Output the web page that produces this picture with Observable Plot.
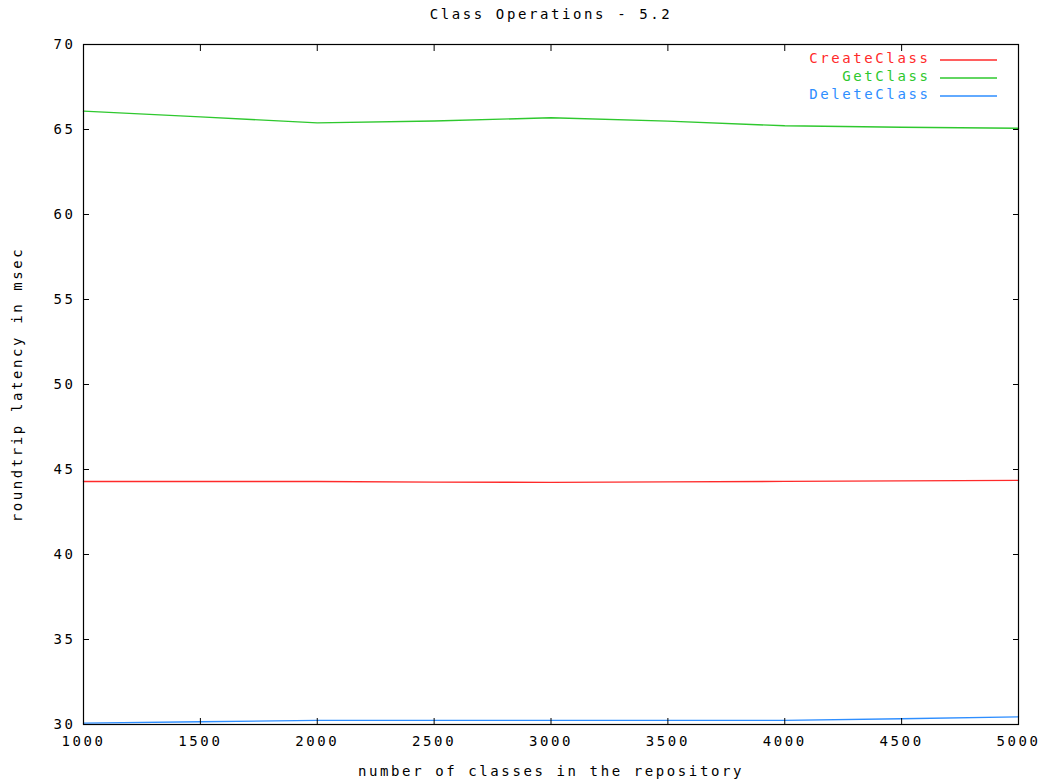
<!DOCTYPE html>
<html>
<head>
<meta charset="utf-8">
<script src="https://cdn.jsdelivr.net/npm/d3@7"></script>
<script src="https://cdn.jsdelivr.net/npm/@observablehq/plot@0.6"></script>
<style>
  html, body { margin: 0; padding: 0; background: #fff; }
  svg text { letter-spacing: 2.6px; }
</style>
</head>
<body>
<div id="chart"></div>
<script>
const title = "Class Operations - 5.2";
const xLabel = "number of classes in the repository";
const yLabel = "roundtrip latency in msec";
const classCounts = [1000, 1500, 2000, 2500, 3000, 3500, 4000, 4500, 5000];
const createClass = [44.29, 44.29, 44.29, 44.26, 44.24, 44.27, 44.30, 44.33, 44.36];
const getClass    = [66.08, 65.74, 65.39, 65.50, 65.69, 65.49, 65.22, 65.13, 65.07];
const deleteClass = [30.08, 30.16, 30.24, 30.24, 30.24, 30.24, 30.24, 30.34, 30.45];
const seriesNames = ["CreateClass", "GetClass", "DeleteClass"];
const seriesColors = ["#ff2a2a", "#2ec82e", "#2e8eff"];
const xTicks = [1000, 1500, 2000, 2500, 3000, 3500, 4000, 4500, 5000];
const yTicks = [30, 35, 40, 45, 50, 55, 60, 65, 70];

const seriesValues = [createClass, getClass, deleteClass];
const data = seriesNames.flatMap((name, s) =>
  classCounts.map((x, i) => ({series: name, x, y: seriesValues[s][i]})));

const font = "DejaVu Sans Mono";
const fs = 14;

const chart = Plot.plot({
  width: 1052,
  height: 783,
  marginLeft: 83,
  marginRight: 34,
  marginTop: 44,
  marginBottom: 59,
  style: {fontFamily: font, fontSize: fs + "px", color: "#000", background: "#fff"},
  x: {domain: [1000, 5000], label: null},
  y: {domain: [30, 70], label: null},
  color: {domain: seriesNames, range: seriesColors},
  marks: [
    Plot.line(data, {x: "x", y: "y", z: "series", stroke: "series", strokeWidth: 1.4}),
    Plot.frame({stroke: "#000", strokeWidth: 1.2}),
    // inward ticks on all four sides
    Plot.axisX({ticks: xTicks, anchor: "bottom", tickSize: 6, dy: -6, tickFormat: () => "", label: null, stroke: "#000"}),
    Plot.axisX({ticks: xTicks, anchor: "top", tickSize: 6, dy: 6, tickFormat: () => "", label: null, stroke: "#000"}),
    Plot.axisY({ticks: yTicks, anchor: "left", tickSize: 6, dx: 6, tickFormat: () => "", label: null, stroke: "#000"}),
    Plot.axisY({ticks: yTicks, anchor: "right", tickSize: 6, dx: -6, tickFormat: () => "", label: null, stroke: "#000"}),
    // tick labels
    Plot.axisX({ticks: xTicks, anchor: "bottom", tickSize: 0, tickPadding: 12, tickFormat: d => String(d), label: null, fontSize: fs}),
    Plot.axisY({ticks: yTicks, anchor: "left", tickSize: 0, tickPadding: 8, tickFormat: d => String(d), label: null, fontSize: fs}),
    // titles
    Plot.text([title], {text: d => d, frameAnchor: "top", dy: -35, fontSize: fs}),
    Plot.text([xLabel], {text: d => d, frameAnchor: "bottom", dy: 51, fontSize: fs}),
    Plot.text([yLabel], {text: d => d, frameAnchor: "left", dx: -66, rotate: -90, textAnchor: "middle", lineAnchor: "middle", fontSize: fs}),
    // legend labels
    ...seriesNames.map((name, i) =>
      Plot.text([name], {text: d => d, frameAnchor: "top-right", dx: -88, dy: 9 + 18 * i, textAnchor: "end", fill: seriesColors[i], fontSize: fs}))
  ]
});

// legend sample lines, placed relative to the plot frame using the scales
const xScale = chart.scale("x"), yScale = chart.scale("y");
const svgSel = d3.select(chart);
const frameRight = xScale.range[1];
const frameTop = yScale.range[1];
seriesNames.forEach((name, i) => {
  svgSel.append("line")
    .attr("x1", frameRight - 78).attr("x2", frameRight - 21)
    .attr("y1", frameTop + 16 + 18 * i).attr("y2", frameTop + 16 + 18 * i)
    .attr("stroke", seriesColors[i]).attr("stroke-width", 1.4);
});

document.getElementById("chart").appendChild(chart);
</script>
</body>
</html>
